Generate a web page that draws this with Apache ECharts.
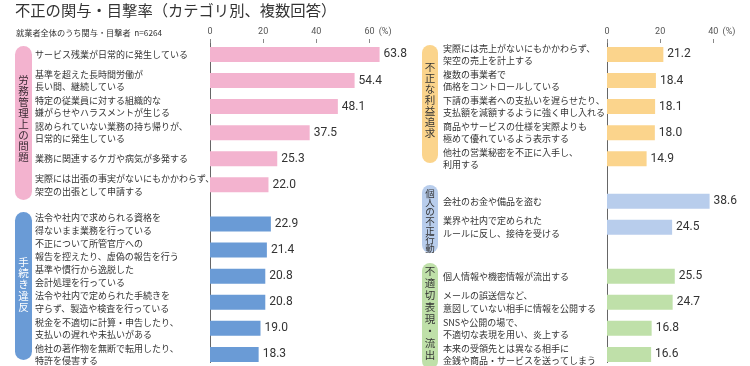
<!DOCTYPE html>
<html><head><meta charset="utf-8">
<script src="https://cdn.jsdelivr.net/npm/echarts@6/dist/echarts.min.js"></script>
<style>html,body{margin:0;padding:0;background:#fff}#c{width:750px;height:366px}</style>
</head><body><div id="c"></div>
<script>
// ---------- data ----------
const titleText = '不正の関与・目撃率（カテゴリ別、複数回答）';
const subText = '就業者全体のうち関与・目撃者  n=6264';

const laborName = '労務管理上の問題';
const laborLabels = [
  'サービス残業が日常的に発生している',
  '基準を超えた長時間労働が\n長い間、継続している',
  '特定の従業員に対する組織的な\n嫌がらせやハラスメントが生じる',
  '認められていない業務の持ち帰りが、\n日常的に発生している',
  '業務に関連するケガや病気が多発する',
  '実際には出張の事実がないにもかかわらず、\n架空の出張として申請する'
];
const laborValues = [63.8, 54.4, 48.1, 37.5, 25.3, 22.0];

const procName = '手続き違反';
const procLabels = [
  '法令や社内で求められる資格を\n得ないまま業務を行っている',
  '不正について所管官庁への\n報告を控えたり、虚偽の報告を行う',
  '基準や慣行から逸脱した\n会計処理を行っている',
  '法令や社内で定められた手続きを\n守らず、製造や検査を行っている',
  '税金を不適切に計算・申告したり、\n支払いの遅れや未払いがある',
  '他社の著作物を無断で転用したり、\n特許を侵害する'
];
const procValues = [22.9, 21.4, 20.8, 20.8, 19.0, 18.3];

const profitName = '不正な利益追求';
const profitLabels = [
  '実際には売上がないにもかかわらず、\n架空の売上を計上する',
  '複数の事業者で\n価格をコントロールしている',
  '下請の事業者への支払いを遅らせたり、\n支払額を減額するように強く申し入れる',
  '商品やサービスの仕様を実際よりも\n極めて優れているよう表示する',
  '他社の営業秘密を不正に入手し、\n利用する'
];
const profitValues = [21.2, 18.4, 18.1, 18.0, 14.9];

const personalName = '個人の不正行動';
const personalLabels = [
  '会社のお金や備品を盗む',
  '業界や社内で定められた\nルールに反し、接待を受ける'
];
const personalValues = [38.6, 24.5];

const leakName = '不適切表現・流出';
const leakLabels = [
  '個人情報や機密情報が流出する',
  'メールの誤送信など、\n意図していない相手に情報を公開する',
  'SNSや公開の場で、\n不適切な表現を用い、炎上する',
  '本来の受領先とは異なる相手に\n金銭や商品・サービスを送ってしまう'
];
const leakValues = [25.5, 24.7, 16.8, 16.6];

const leftTicks = [0, 20, 40, 60];
const rightTicks = [0, 20, 40];
const unitText = '(%)';

// ---------- layout / style ----------
const JP = "'Noto Sans CJK JP', 'Noto Sans', sans-serif";
const NUM = "'Roboto', sans-serif";
const C = { pink: '#f3b3cf', blue: '#6a9bd6', orange: '#fbd48c', lblue: '#b8cdec', green: '#bfe0a9' };
const ROW = 8, LEAD = 3, TOTAL = 98;

function buildPanel(groups, gaps) {
  const cats = [], labels = [], data = [];
  for (let i = 0; i < TOTAL; i++) { cats.push('s' + i); labels.push(''); data.push('-'); }
  let pos = LEAD;
  groups.forEach((g, gi) => {
    g.labels.forEach((lab, i) => {
      if (i > 0) pos += ROW;
      labels[pos] = lab;
      data[pos] = { value: g.values[i], itemStyle: { color: g.color } };
    });
    if (gi < gaps.length) pos += gaps[gi];
  });
  return { cats, labels, data };
}

const left = buildPanel([
  { labels: laborLabels, values: laborValues, color: C.pink },
  { labels: procLabels, values: procValues, color: C.blue }
], [12]);
const right = buildPanel([
  { labels: profitLabels, values: profitValues, color: C.orange },
  { labels: personalLabels, values: personalValues, color: C.lblue },
  { labels: leakLabels, values: leakValues, color: C.green }
], [13, 15]);

const PX = 2.658;
const GTOP = 43, GH = TOTAL * 3.261;

function xAx(gi, max, ticks) {
  const last = ticks[ticks.length - 1];
  return {
    gridIndex: gi, type: 'value', position: 'top', min: 0, max: max,
    axisLine: { show: false }, splitLine: { show: false },
    axisTick: { show: true, length: 4, customValues: ticks, lineStyle: { color: '#888' } },
    axisLabel: {
      customValues: ticks, margin: 7, fontSize: 9, color: '#555', fontFamily: NUM,
      formatter: v => v === last ? '{p|}' + v + '{u|' + unitText + '}' : String(v),
      rich: {
        p: { width: 17, fontSize: 9, fontFamily: NUM },
        u: { width: 17, align: 'right', fontSize: 9, color: '#555', fontFamily: NUM }
      }
    }
  };
}
function yAx(gi, panel, margin) {
  return {
    gridIndex: gi, type: 'category', inverse: true, data: panel.cats,
    axisLine: { show: true, lineStyle: { color: '#666', width: 1 } },
    axisTick: { show: false },
    axisLabel: {
      interval: 0, formatter: (v, i) => panel.labels[i], align: 'left', margin: margin,
      fontSize: 9, lineHeight: 12.5, color: '#333', fontFamily: JP
    }
  };
}
function barS(gi, panel) {
  return {
    type: 'bar', xAxisIndex: gi, yAxisIndex: gi, data: panel.data, barWidth: 15,
    label: { show: true, position: 'right', distance: 4, fontSize: 12, color: '#333', fontFamily: NUM,
      formatter: p => Number(p.value).toFixed(1) }
  };
}
function pill(x, y, w, h, color, name, cy, lh, fs, txtColor) {
  return {
    type: 'group', children: [
      { type: 'rect', shape: { x: x, y: y, width: w, height: h, r: w / 2 }, style: { fill: color } },
      { type: 'text', style: { text: name.split('').join('\n'), x: x + w / 2, y: cy, align: 'center', verticalAlign: 'middle',
        fontSize: fs, lineHeight: lh, fontFamily: JP, fill: txtColor } }
    ]
  };
}

const chart = echarts.init(document.getElementById('c'), null, { renderer: 'canvas' });
chart.setOption({
  animation: false,
  backgroundColor: '#fff',
  title: [
    { text: titleText, left: 15, top: 2.5, padding: 0, textStyle: { fontSize: 15.3, fontWeight: 'normal', color: '#333', fontFamily: JP } },
    { text: subText, left: 16, top: 28.5, padding: 0, textStyle: { fontSize: 8.2, fontWeight: 'normal', color: '#333', fontFamily: JP } }
  ],
  grid: [
    { left: 210, top: GTOP, width: 64 * PX, height: GH, containLabel: false, outerBoundsMode: 'none' },
    { left: 607, top: GTOP, width: 40 * PX, height: GH, containLabel: false, outerBoundsMode: 'none' }
  ],
  xAxis: [xAx(0, 64, leftTicks), xAx(1, 40, rightTicks)],
  yAxis: [yAx(0, left, 175), yAx(1, right, 164)],
  series: [barS(0, left), barS(1, right)],
  graphic: [
    pill(15, 46, 17, 154, C.pink, laborName, 118.5, 11, 10.5, '#3a2a33'),
    pill(15, 212, 17, 148, C.blue, procName, 284.5, 11.2, 10.5, '#fff'),
    pill(422, 45, 16, 118, C.orange, profitName, 100, 11, 10.5, '#333'),
    pill(422, 185, 16, 68, C.lblue, personalName, 221, 9.2, 9.5, '#333'),
    pill(422, 263, 16, 106, C.green, leakName, 313.5, 12, 10.5, '#333')
  ]
});
</script></body></html>
